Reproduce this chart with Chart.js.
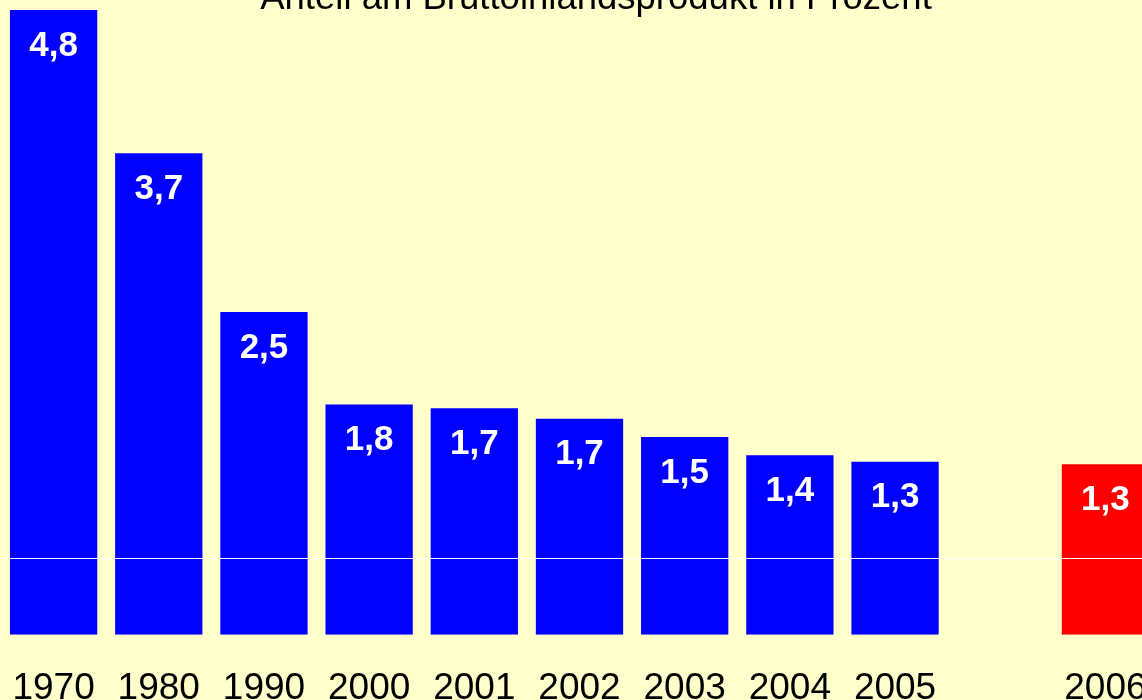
<!DOCTYPE html>
<html>
<head>
<meta charset="utf-8">
<script src="https://cdn.jsdelivr.net/npm/chart.js@4"></script>
<style>
  html, body { margin: 0; padding: 0; background: #FFFFCC; overflow: hidden; }
  #bipChart { position: absolute; left: 0; top: -23px; }
</style>
</head>
<body>
<canvas id="bipChart" width="1191" height="758"></canvas>
<script>
var years = ['1970', '1980', '1990', '2000', '2001', '2002', '2003', '2004', '2005', '', '2006']
var shares = [4.80, 3.70, 2.48, 1.77, 1.74, 1.66, 1.52, 1.38, 1.33, null, 1.31]
var shareLabels = ['4,8', '3,7', '2,5', '1,8', '1,7', '1,7', '1,5', '1,4', '1,3', '', '1,3']
var barColors = ['blue', 'blue', 'blue', 'blue', 'blue', 'blue', 'blue', 'blue', 'blue', 'blue', 'red']
var markLine = 0.585 // thin white line across the bars

// white values written inside the top of each bar
var valueLabels = {
    id: 'valueLabels',
    afterDatasetsDraw: function(chart) {
        var ctx = chart.ctx
        var bars = chart.getDatasetMeta(0).data
        ctx.save()
        ctx.fillStyle = 'white'
        ctx.font = 'bold 35px "Liberation Sans", Arial, sans-serif'
        ctx.textAlign = 'center'
        ctx.textBaseline = 'middle'
        for (var i = 0; i < bars.length; i++) {
            if (shares[i] == null) continue
            ctx.fillText(shareLabels[i], bars[i].x, bars[i].y + 36)
        }
        ctx.restore()
    }
}

var ctx = document.getElementById('bipChart').getContext('2d')
var chart = new Chart(ctx, {
    type: 'bar',
    data: {
        labels: years,
        datasets: [{
            data: shares,
            backgroundColor: barColors,
            borderWidth: 0,
            barPercentage: 0.83,
            categoryPercentage: 1
        }]
    },
    options: {
        responsive: false,
        animation: false,
        layout: { padding: { left: 1, right: 0, top: 0, bottom: 0 } },
        plugins: {
            legend: { display: false },
            tooltip: { enabled: false },
            title: {
                display: true,
                text: 'Anteil am Bruttoinlandsprodukt in Prozent',
                color: 'black',
                font: { family: '"Liberation Sans", Arial, sans-serif', size: 36.5, weight: 'normal', lineHeight: 1.2 },
                padding: { top: 0, bottom: -36.8 }
            }
        },
        scales: {
            x: {
                grid: { display: false },
                border: { display: false },
                ticks: {
                    color: 'black',
                    padding: 0,
                    maxRotation: 0,
                    autoSkip: false,
                    font: { family: '"Liberation Sans", Arial, sans-serif', size: 37, lineHeight: 2.49 }
                }
            },
            y: {
                position: 'right',
                min: 0,
                max: 5,
                afterBuildTicks: function(scale) {
                    scale.ticks = [{ value: markLine }]
                },
                afterFit: function(scale) {
                    scale.width = 33
                },
                grid: { color: 'white', lineWidth: 1, drawTicks: false, z: 1 },
                border: { display: false },
                ticks: { display: false }
            }
        }
    },
    plugins: [valueLabels]
})
</script>
</body>
</html>
